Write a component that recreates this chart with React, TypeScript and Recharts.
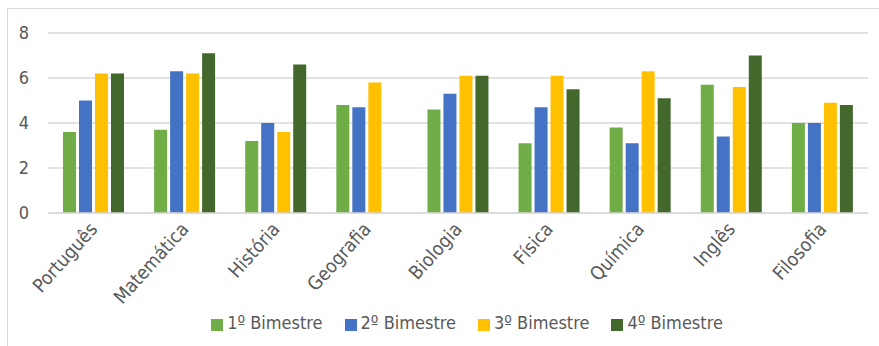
import React from "react";
import {
  BarChart,
  Bar,
  XAxis,
  YAxis,
  CartesianGrid,
  Legend,
} from "recharts";

// Subjects and bimester grades
const subjects = [
  "Português",
  "Matemática",
  "História",
  "Geografia",
  "Biologia",
  "Física",
  "Química",
  "Inglês",
  "Filosofia",
];
const bim1 = [3.6, 3.7, 3.2, 4.8, 4.6, 3.1, 3.8, 5.7, 4.0];
const bim2 = [5.0, 6.3, 4.0, 4.7, 5.3, 4.7, 3.1, 3.4, 4.0];
const bim3 = [6.2, 6.2, 3.6, 5.8, 6.1, 6.1, 6.3, 5.6, 4.9];
const bim4 = [6.2, 7.1, 6.6, null, 6.1, 5.5, 5.1, 7.0, 4.8];
const yTicks = [0, 2, 4, 6, 8];

const seriesNames = ["1º Bimestre", "2º Bimestre", "3º Bimestre", "4º Bimestre"];
const colors = ["#70AD47", "#4472C4", "#FFC000", "#43682B"];

const data = subjects.map((name, i) => ({
  name,
  b1: bim1[i],
  b2: bim2[i],
  b3: bim3[i],
  b4: bim4[i],
}));

const FONT = "'DejaVu Sans Condensed', 'Open Sans', sans-serif";
const TEXT = "#595959";

const SubjectTick = (props: any) => {
  const { x, y, payload } = props;
  return (
    <g transform={`translate(${x + 5},${y + 9})`}>
      <text
        x={0}
        y={0}
        textAnchor="end"
        transform="rotate(-48)"
        fill={TEXT}
        fontSize={19}
        fontFamily={FONT}
      >
        {payload.value}
      </text>
    </g>
  );
};

const App: React.FC = () => {
  return (
    <div
      style={{
        position: "absolute",
        left: 0,
        top: 0,
        width: 879,
        height: 346,
        overflow: "hidden",
        background: "#fff",
      }}
    >
      <div
        style={{
          position: "absolute",
          left: 7,
          top: 8,
          width: 900,
          height: 400,
          border: "1px solid #d9d9d9",
        }}
      />
      <div style={{ position: "absolute", left: 0, top: 0 }}>
        <BarChart
          width={879}
          height={346}
          data={data}
          margin={{ top: 33, right: 11, left: 8, bottom: 13 }}
          barSize={13}
          barGap={3}
        >
          <CartesianGrid vertical={false} stroke="#d9d9d9" strokeWidth={1.5} />
          <XAxis
            dataKey="name"
            height={99}
            interval={0}
            tickLine={false}
            axisLine={{ stroke: "#d9d9d9", strokeWidth: 1.5 }}
            tick={<SubjectTick />}
          />
          <YAxis
            width={40}
            domain={[0, 8]}
            ticks={yTicks}
            axisLine={false}
            tickLine={false}
            tickSize={6}
            tickMargin={13}
            tick={{ fill: TEXT, fontSize: 18, fontFamily: FONT }}
          />
          <Legend
            verticalAlign="bottom"
            iconType="square"
            iconSize={12}
            wrapperStyle={{ paddingLeft: 40 }}
            formatter={(value: string) => (
              <span style={{ color: TEXT, fontSize: 18, fontFamily: FONT, marginRight: 12 }}>
                {value}
              </span>
            )}
          />
          {["b1", "b2", "b3", "b4"].map((key, i) => (
            <Bar
              key={key}
              dataKey={key}
              name={seriesNames[i]}
              fill={colors[i]}
              isAnimationActive={false}
            />
          ))}
        </BarChart>
      </div>
    </div>
  );
};

export default App;
